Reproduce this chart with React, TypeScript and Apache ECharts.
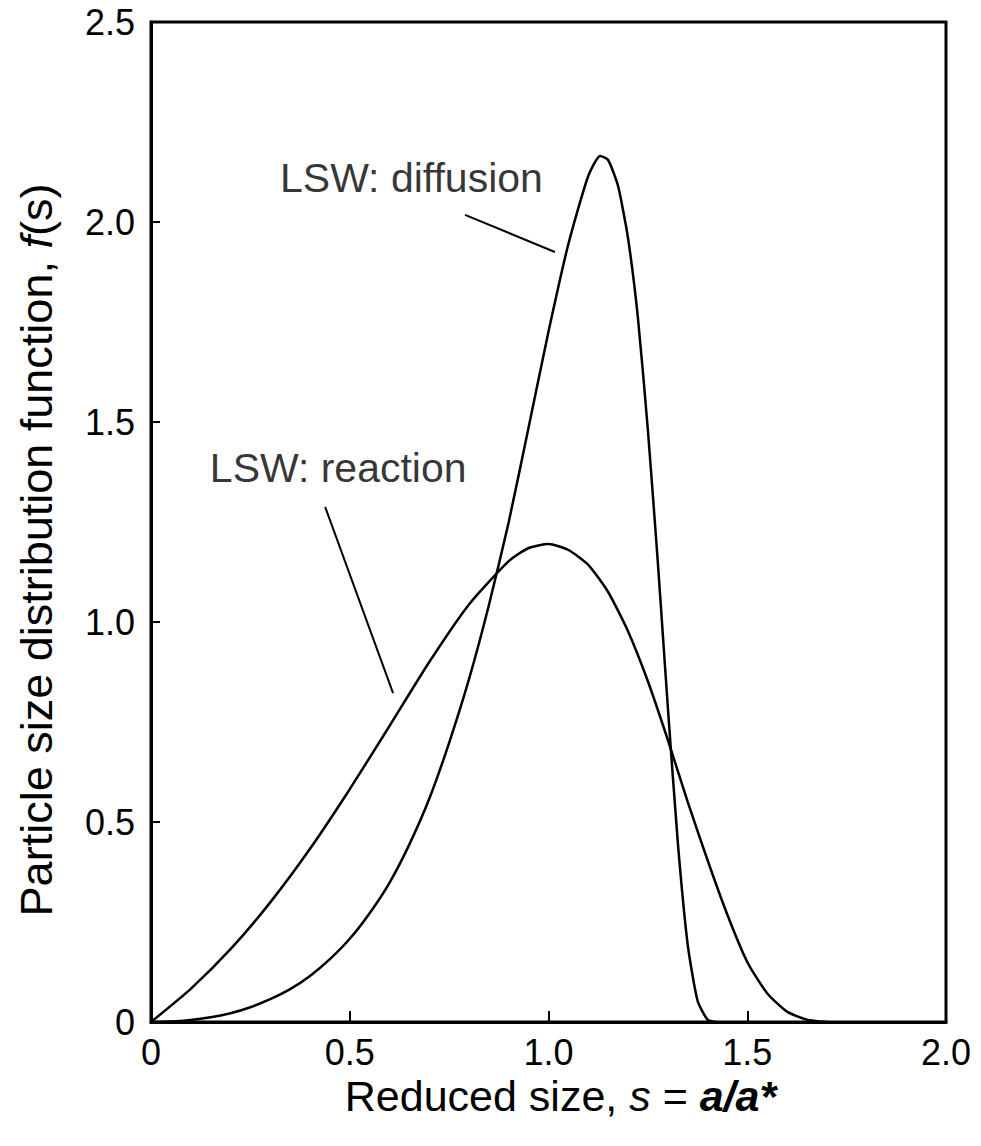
import React, { useEffect, useRef } from "react";
import * as echarts from "echarts";

// Reduced size s (x) and distribution f(s) (y)
const diffusionS = [0, 0.05, 0.1, 0.15, 0.2, 0.25, 0.3, 0.35, 0.4, 0.45, 0.5, 0.55, 0.6, 0.65, 0.7, 0.75, 0.8, 0.85, 0.9, 0.95, 1.0, 1.05, 1.1, 1.13, 1.15, 1.175, 1.2, 1.225, 1.25, 1.275, 1.3, 1.325, 1.35, 1.375, 1.4, 1.42];
const diffusionF = [0, 0.001, 0.005, 0.012, 0.022, 0.037, 0.057, 0.082, 0.115, 0.157, 0.208, 0.272, 0.348, 0.444, 0.558, 0.698, 0.857, 1.042, 1.25, 1.487, 1.726, 1.945, 2.115, 2.165, 2.155, 2.09, 1.96, 1.76, 1.48, 1.15, 0.79, 0.453, 0.195, 0.053, 0.006, 0];

const reactionS = [0, 0.1, 0.2, 0.3, 0.4, 0.5, 0.6, 0.7, 0.8, 0.9, 0.95, 1.0, 1.05, 1.1, 1.15, 1.2, 1.25, 1.3, 1.35, 1.4, 1.45, 1.5, 1.55, 1.6, 1.65, 1.7];
const reactionF = [0, 0.083, 0.182, 0.299, 0.433, 0.582, 0.74, 0.9, 1.044, 1.152, 1.185, 1.195, 1.18, 1.143, 1.075, 0.977, 0.852, 0.706, 0.551, 0.405, 0.268, 0.15, 0.072, 0.026, 0.006, 0];

// annotation leader lines (data coordinates)
const diffusionLeader = [[0.79, 2.018], [1.016, 1.925]];
const reactionLeader = [[0.438, 1.288], [0.609, 0.822]];
// annotation labels: [s, f, text]
const annotations: [number, number, string][] = [
  [0.3245, 2.11, "LSW: diffusion"],
  [0.148, 1.385, "LSW: reaction"],
];

const xTicks = [0, 0.5, 1.0, 1.5, 2.0];
const yTicks = [0, 0.5, 1.0, 1.5, 2.0, 2.5];

const FONT = "Liberation Sans, Arial, Helvetica, sans-serif";

const fmt = (v: number) => (v === 0 ? "0" : v.toFixed(1));

export default function App() {
  const ref = useRef<HTMLDivElement>(null);
  useEffect(() => {
    if (!ref.current) return;
    const chart = echarts.init(ref.current, undefined, { renderer: "svg" });
    const lineStyle = { color: "#000", width: 2.5 };
    chart.setOption({
      animation: false,
      backgroundColor: "#fff",
      grid: {
        left: 151,
        top: 22,
        width: 795,
        height: 1000,
        show: true,
        borderColor: "#000",
        borderWidth: 3,
        backgroundColor: "transparent",
      },
      xAxis: {
        type: "value",
        min: xTicks[0],
        max: xTicks[xTicks.length - 1],
        interval: 0.5,
        axisLine: { show: true, lineStyle: { color: "#000", width: 3 } },
        axisTick: { show: true, inside: true, length: 11, lineStyle: { color: "#000", width: 2 } },
        splitLine: { show: false },
        axisLabel: {
          color: "#000",
          fontFamily: FONT,
          fontSize: 36,
          margin: 12,
          formatter: fmt,
        },
        name: "Reduced size, {i|s} = {bi|a/a*}",
        nameLocation: "middle",
        nameGap: 43,
        nameTextStyle: {
          color: "#000",
          fontFamily: FONT,
          fontSize: 43,
          padding: [0, 0, 0, 24],
          rich: {
            i: { fontStyle: "italic", fontFamily: FONT, fontSize: 43, color: "#000" },
            bi: { fontStyle: "italic", fontWeight: "bold", fontFamily: FONT, fontSize: 43, color: "#000" },
          },
        },
      },
      yAxis: {
        type: "value",
        min: yTicks[0],
        max: yTicks[yTicks.length - 1],
        interval: 0.5,
        axisLine: { show: true, lineStyle: { color: "#000", width: 3 } },
        axisTick: { show: true, inside: true, length: 9, lineStyle: { color: "#000", width: 2 } },
        splitLine: { show: false },
        axisLabel: {
          color: "#000",
          fontFamily: FONT,
          fontSize: 36,
          margin: 16,
          formatter: fmt,
        },
        name: "Particle size distribution function, {i|f}(s)",
        nameLocation: "middle",
        nameGap: 92,
        nameRotate: 90,
        nameTextStyle: {
          color: "#000",
          fontFamily: FONT,
          fontSize: 45,
          padding: [0, 56, 0, 0],
          rich: {
            i: { fontStyle: "italic", fontFamily: FONT, fontSize: 45, color: "#000" },
          },
        },
      },
      series: [
        {
          type: "line",
          name: "LSW: diffusion",
          data: diffusionS.map((s, i) => [s, diffusionF[i]]),
          showSymbol: false,
          smooth: 0.2,
          lineStyle,
        },
        {
          type: "line",
          name: "LSW: reaction",
          data: reactionS.map((s, i) => [s, reactionF[i]]),
          showSymbol: false,
          smooth: 0.2,
          lineStyle,
        },
        {
          type: "line",
          data: diffusionLeader,
          showSymbol: false,
          lineStyle: { color: "#000", width: 2 },
        },
        {
          type: "line",
          data: reactionLeader,
          showSymbol: false,
          lineStyle: { color: "#000", width: 2 },
        },
        {
          type: "scatter",
          symbolSize: 0,
          data: annotations.map((a) => ({ value: [a[0], a[1]], name: a[2] })),
          label: {
            show: true,
            position: "right",
            distance: 0,
            formatter: (p: any) => p.name,
            color: "#000",
            fontFamily: FONT,
            fontSize: 41,
          },
        },
      ],
    });
    return () => chart.dispose();
  }, []);
  return (
    <div
      ref={ref}
      style={{ position: "absolute", left: 0, top: 0, width: 981, height: 1146 }}
    />
  );
}
